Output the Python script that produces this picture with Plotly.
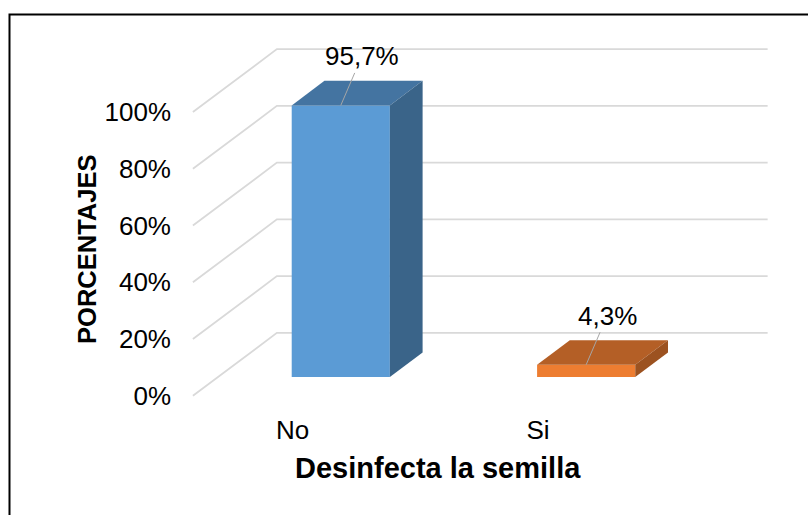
import plotly.graph_objects as go

# ---- data ----
categories = ["No", "Si"]
percentages = [95.7, 4.3]
tick_values = [0, 20, 40, 60, 80, 100]
tick_labels = [f"{t}%" for t in tick_values]
x_title = "Desinfecta la semilla"
y_title = "PORCENTAJES"

# ---- styling ----
FONT = "Liberation Sans, Arial, sans-serif"
FRONT_COLORS = ["#5B9BD5", "#ED7D31"]
TOP_COLORS = ["#4474A1", "#B45F26"]
SIDE_COLORS = ["#3A6489", "#9C5220"]
GRID_COLOR = "#D9D9D9"

# ---- pseudo-3D geometry (front plane of the axes box) ----
FIG_W, FIG_H = 808, 515
PX_PER_CAT = 245.5          # pixels per category on the front plane
PX_PER_PCT = 2.84           # pixels per percentage point
ORIGIN_PX = (193.0, 396.0)  # pixel of (x=-0.5, y=0) on the front plane
X_RANGE = [-0.52, 1.86]
Y_RANGE = [-5, 124]
DEPTH_X = 84 / PX_PER_CAT   # full depth offset, category units
DEPTH_Y = 63 / PX_PER_PCT   # full depth offset, percent units
BAR_D0, BAR_D1 = 0.30, 0.69  # bar front/back depth fractions
BAR_W = 0.40

left = ORIGIN_PX[0] - (-0.5 - X_RANGE[0]) * PX_PER_CAT
plot_w = (X_RANGE[1] - X_RANGE[0]) * PX_PER_CAT
top = ORIGIN_PX[1] - Y_RANGE[1] * PX_PER_PCT
plot_h = (Y_RANGE[1] - Y_RANGE[0]) * PX_PER_PCT
right = FIG_W - left - plot_w
bottom = FIG_H - top - plot_h


def paper_x(px):
    return (px - left) / plot_w


def paper_y(py):
    return (top + plot_h - py) / plot_h


fig = go.Figure()

# front faces of the columns
for i, (cat, val) in enumerate(zip(categories, percentages)):
    fig.add_trace(go.Bar(
        x=[i + BAR_D0 * DEPTH_X], y=[val], base=[BAR_D0 * DEPTH_Y],
        width=BAR_W, marker=dict(color=FRONT_COLORS[i], line=dict(width=0)),
        name=cat, showlegend=False, hoverinfo="skip",
    ))

# top and side faces of the columns
for i, val in enumerate(percentages):
    xl, xr = i - BAR_W / 2, i + BAR_W / 2
    fx, bx = BAR_D0 * DEPTH_X, BAR_D1 * DEPTH_X
    fy, by = BAR_D0 * DEPTH_Y, BAR_D1 * DEPTH_Y
    fig.add_trace(go.Scatter(
        x=[xl + fx, xr + fx, xr + bx, xl + bx, xl + fx],
        y=[val + fy, val + fy, val + by, val + by, val + fy],
        fill="toself", fillcolor=TOP_COLORS[i], mode="lines",
        line=dict(width=0, color=TOP_COLORS[i]),
        showlegend=False, hoverinfo="skip",
    ))
    fig.add_trace(go.Scatter(
        x=[xr + fx, xr + bx, xr + bx, xr + fx, xr + fx],
        y=[fy, by, val + by, val + fy, fy],
        fill="toself", fillcolor=SIDE_COLORS[i], mode="lines",
        line=dict(width=0, color=SIDE_COLORS[i]),
        showlegend=False, hoverinfo="skip",
    ))

# side-wall and back-wall gridlines
shapes = []
for t in tick_values:
    x0, y0 = -0.5, t
    x1, y1 = -0.5 + DEPTH_X, t + DEPTH_Y
    x2 = 1.5 + DEPTH_X
    shapes.append(dict(
        type="path", xref="x", yref="y", layer="below",
        path=f"M {x0},{y0} L {x1},{y1} L {x2},{y1}",
        line=dict(color=GRID_COLOR, width=1.8),
    ))

# chart border
shapes.append(dict(
    type="rect", xref="paper", yref="paper",
    x0=paper_x(9.5), x1=paper_x(FIG_W + 20),
    y0=paper_y(14.3), y1=paper_y(FIG_H + 20),
    line=dict(color="#000000", width=2), fillcolor="rgba(0,0,0,0)",
))

annotations = []
# value labels with leader lines
for i, val in enumerate(percentages):
    annotations.append(dict(
        x=i + BAR_D0 * DEPTH_X, y=val + BAR_D0 * DEPTH_Y,
        xref="x", yref="y",
        text=f"{val:.1f}".replace(".", ",") + "%",
        showarrow=True, arrowhead=0, arrowwidth=1, arrowcolor="#A6A6A6",
        ax=21, ay=-49, standoff=0,
        font=dict(family=FONT, size=26, color="#000000"),
    ))

# axis titles
annotations.append(dict(
    x=paper_x(438), y=paper_y(468), xref="paper", yref="paper",
    xanchor="center", yanchor="middle",
    text=f"<b>{x_title}</b>", showarrow=False,
    font=dict(family=FONT, size=29, color="#000000"),
))
annotations.append(dict(
    x=paper_x(87), y=paper_y(249), xref="paper", yref="paper",
    xanchor="center", yanchor="middle",
    text=f"<b>{y_title}</b>", showarrow=False, textangle=-90,
    font=dict(family=FONT, size=25.5, color="#000000"),
))

fig.update_layout(
    width=FIG_W, height=FIG_H,
    margin=dict(l=left, r=right, t=top, b=bottom, autoexpand=False),
    paper_bgcolor="white", plot_bgcolor="white",
    barmode="overlay", showlegend=False,
    shapes=shapes, annotations=annotations,
    font=dict(family=FONT, size=26, color="#000000"),
    xaxis=dict(
        range=X_RANGE, tickvals=list(range(len(categories))), ticktext=categories,
        showgrid=False, zeroline=False, showline=False, ticks="",
        ticklabelshift=-23, ticklabelstandoff=2,
        tickfont=dict(family=FONT, size=26, color="#000000"),
    ),
    yaxis=dict(
        range=Y_RANGE, tickvals=tick_values, ticktext=tick_labels,
        showgrid=False, zeroline=False, showline=False, ticks="",
        ticklabelstandoff=16,
        tickfont=dict(family=FONT, size=26, color="#000000"),
    ),
)

fig.write_html("out.html")
